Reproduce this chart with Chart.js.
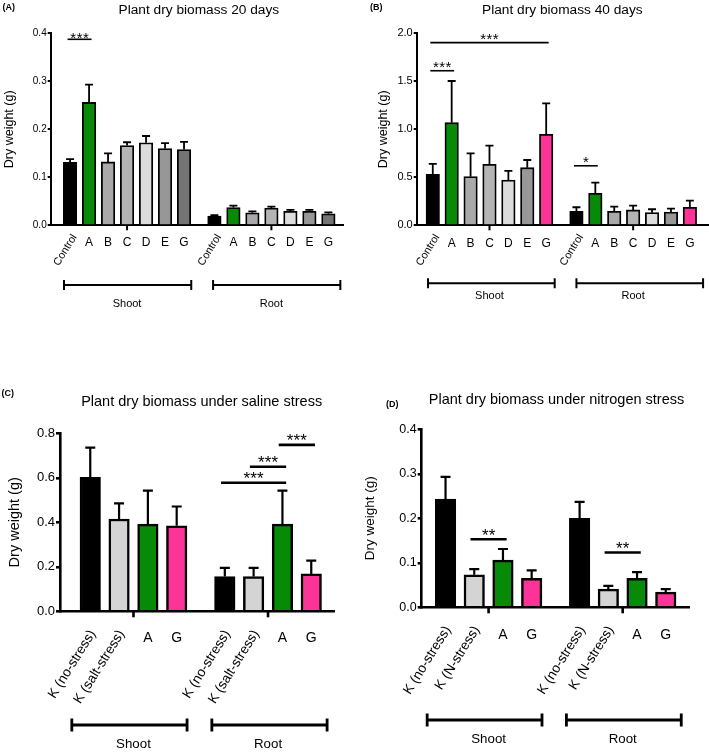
<!DOCTYPE html>
<html>
<head>
<meta charset="utf-8">
<title>Plant dry biomass</title>
<script src="https://cdn.jsdelivr.net/npm/chart.js@4.4.1/dist/chart.umd.min.js"></script>
<style>
  body { margin: 0; background: #fff; }
  #page { position: relative; width: 709px; height: 752px; overflow: hidden; background: #fff; }
  canvas { position: absolute; }
</style>
</head>
<body>
<div id="page">
  <canvas id="chartA" width="355" height="330" style="left:0;top:0"></canvas>
  <canvas id="chartB" width="354" height="330" style="left:355px;top:0"></canvas>
  <canvas id="chartC" width="355" height="382" style="left:0;top:370px"></canvas>
  <canvas id="chartD" width="354" height="382" style="left:355px;top:370px"></canvas>
</div>
<script>
const FONT = "'Liberation Sans', Arial, Helvetica, sans-serif";
const GREEN = '#078a07';
const PINK = '#fc3498';

// ================= DATA =================
const groups = ['Shoot', 'Root'];

// (A) 20 days
const labels20 = ['Control', 'A', 'B', 'C', 'D', 'E', 'G'];
const shoot20 = [0.131, 0.256, 0.132, 0.166, 0.172, 0.160, 0.158];
const shoot20Err = [0.007, 0.037, 0.018, 0.007, 0.014, 0.011, 0.016];
const root20 = [0.019, 0.037, 0.026, 0.036, 0.029, 0.029, 0.024];
const root20Err = [0.002, 0.004, 0.003, 0.003, 0.003, 0.003, 0.003];
const yTicks20 = [0, 0.1, 0.2, 0.3, 0.4];
// from / to = bar index over shoot then root
const sig20 = [{ from: 0, to: 1, y: 0.3875, text: '***' }];

// (B) 40 days
const labels40 = ['Control', 'A', 'B', 'C', 'D', 'E', 'G'];
const shoot40 = [0.531, 1.069, 0.507, 0.635, 0.472, 0.600, 0.948];
const shoot40Err = [0.108, 0.434, 0.243, 0.195, 0.094, 0.080, 0.323];
const root40 = [0.146, 0.333, 0.146, 0.160, 0.132, 0.139, 0.188];
const root40Err = [0.042, 0.111, 0.048, 0.045, 0.035, 0.035, 0.069];
const yTicks40 = [0, 0.5, 1.0, 1.5, 2.0];
const sig40 = [
  { from: 0, to: 6, y: 1.903, text: '***' },
  { from: 0, to: 1, y: 1.61, text: '***' },
  { from: 7, to: 8, y: 0.62, text: '*' }
];

// (C) saline stress
const labelsSalt = ['K (no-stress)', 'K (salt-stress)', 'A', 'G'];
const shootSalt = [0.602, 0.415, 0.392, 0.384];
const shootSaltErr = [0.134, 0.070, 0.150, 0.087];
const rootSalt = [0.156, 0.156, 0.392, 0.168];
const rootSaltErr = [0.039, 0.039, 0.150, 0.060];
const yTicksSalt = [0, 0.2, 0.4, 0.6, 0.8];
const sigSalt = [
  { from: 4, to: 6, y: 0.578, text: '***' },
  { from: 5, to: 6, y: 0.65, text: '***' },
  { from: 6, to: 7, y: 0.748, text: '***' }
];

// (D) nitrogen stress
const labelsN = ['K (no-stress)', 'K (N-stress)', 'A', 'G'];
const shootN = [0.243, 0.073, 0.106, 0.065];
const shootNErr = [0.050, 0.013, 0.025, 0.018];
const rootN = [0.200, 0.041, 0.065, 0.034];
const rootNErr = [0.037, 0.007, 0.014, 0.007];
const yTicksN = [0, 0.1, 0.2, 0.3, 0.4];
const sigN = [
  { from: 1, to: 2, y: 0.153, text: '**' },
  { from: 5, to: 6, y: 0.123, text: '**' }
];

const colors20 = ['#000000', GREEN, '#a9a9a9', '#b4b4b4', '#dcdcdc', '#979797', '#747474'];
const colors40 = ['#000000', GREEN, '#a9a9a9', '#b4b4b4', '#dcdcdc', '#979797', PINK];
const colorsStress = ['#000000', '#d4d4d4', GREEN, PINK];

// ================= DRAWING HELPERS =================
const LABEL_ANGLE = 58 * Math.PI / 180;

function decor(p) {
  const n = p.cats.length;
  const pos = k => (k < n ? k : p.rootStart + k - n);
  return {
    id: 'decor',
    afterDatasetsDraw(chart) {
      const { ctx, scales: { y } } = chart;
      const bars = chart.getDatasetMeta(0).data;
      ctx.save();
      ctx.strokeStyle = '#000';
      ctx.lineWidth = p.errW;
      bars.forEach((bar, i) => {
        const top = y.getPixelForValue(p.vals[i] + p.errs[i]);
        ctx.beginPath();
        ctx.moveTo(bar.x, bar.y);
        ctx.lineTo(bar.x, top);
        ctx.moveTo(bar.x - p.cap / 2, top);
        ctx.lineTo(bar.x + p.cap / 2, top);
        ctx.stroke();
      });
      ctx.restore();
    },
    afterDraw(chart) {
      const { ctx, chartArea: area, scales: { x, y } } = chart;
      const bars = chart.getDatasetMeta(0).data;
      ctx.save();
      ctx.fillStyle = '#000';
      ctx.strokeStyle = '#000';

      // panel tag and title
      ctx.textBaseline = 'middle';
      ctx.textAlign = 'left';
      ctx.font = `bold ${p.tagSize}px ${FONT}`;
      ctx.fillText(p.tag, p.tagX, p.tagY);
      ctx.textAlign = 'center';
      ctx.font = `${p.titleSize}px ${FONT}`;
      ctx.fillText(p.title, (area.left + area.right) / 2 + p.titleDx, p.titleY);

      // small tick under the middle of each group
      ctx.lineWidth = p.axisW;
      groups.forEach((g, gi) => {
        const mx = x.getPixelForValue(gi * p.rootStart + (n - 1) / 2);
        ctx.beginPath();
        ctx.moveTo(mx, area.bottom);
        ctx.lineTo(mx, area.bottom + p.midTick);
        ctx.stroke();
      });

      // category labels
      bars.forEach((bar, i) => {
        const name = p.cats[i % n];
        if (name.length > 1) {
          ctx.save();
          ctx.translate(bar.x + p.rotDx, area.bottom + p.rotDy);
          ctx.rotate(-LABEL_ANGLE);
          ctx.font = `${p.rotSize}px ${FONT}`;
          ctx.textAlign = 'right';
          ctx.textBaseline = 'middle';
          ctx.fillText(name, 0, 0);
          ctx.restore();
        } else {
          ctx.font = `${p.letterSize}px ${FONT}`;
          ctx.textAlign = 'center';
          ctx.textBaseline = 'middle';
          ctx.fillText(name, bar.x, area.bottom + p.letterDy);
        }
      });

      // Shoot / Root brackets
      ctx.lineWidth = p.bracketW;
      groups.forEach((g, gi) => {
        const c = gi * p.rootStart + (n - 1) / 2;
        const half = (n - 1) / 2 + p.bracketExtra;
        const x1 = x.getPixelForValue(c - half + p.bracketShift[gi]);
        const x2 = x.getPixelForValue(c + half + p.bracketShift[gi]);
        const by = p.bracketY;
        ctx.beginPath();
        ctx.moveTo(x1, by); ctx.lineTo(x2, by);
        ctx.moveTo(x1, by - p.bracketCap); ctx.lineTo(x1, by + p.bracketCap);
        ctx.moveTo(x2, by - p.bracketCap); ctx.lineTo(x2, by + p.bracketCap);
        ctx.stroke();
        ctx.font = `${p.groupSize}px ${FONT}`;
        ctx.textAlign = 'center';
        ctx.textBaseline = 'middle';
        ctx.fillText(g, x.getPixelForValue(c), p.groupY);
      });

      // significance lines
      ctx.lineWidth = p.sigW;
      ctx.font = `${p.starSize}px ${FONT}`;
      ctx.textAlign = 'center';
      ctx.textBaseline = 'alphabetic';
      p.sig.forEach(s => {
        const x1 = x.getPixelForValue(pos(s.from) - 0.13);
        const x2 = x.getPixelForValue(pos(s.to) + 0.13);
        const yy = y.getPixelForValue(s.y);
        ctx.beginPath();
        ctx.moveTo(x1, yy); ctx.lineTo(x2, yy);
        ctx.stroke();
        const k = s.text.length;
        for (let j = 0; j < k; j++) {
          const sx = (x1 + x2) / 2 + (j - (k - 1) / 2) * p.starStep;
          ctx.fillText('*', sx, yy - p.starGap + 0.58 * p.starSize);
        }
      });
      ctx.restore();
    }
  };
}

function makePanel(p) {
  const data = [];
  const colors = [];
  p.vals = [];
  p.errs = [];
  p.shoot.forEach((v, i) => { data.push({ x: i, y: v }); p.vals.push(v); p.errs.push(p.shootErr[i]); colors.push(p.colors[i]); });
  p.root.forEach((v, i) => { data.push({ x: p.rootStart + i, y: v }); p.vals.push(v); p.errs.push(p.rootErr[i]); colors.push(p.colors[i]); });

  return new Chart(document.getElementById(p.canvas), {
    type: 'bar',
    data: {
      datasets: [{
        data,
        backgroundColor: colors,
        borderColor: '#000',
        borderWidth: p.barBorder,
        borderSkipped: 'start',
        barThickness: p.barW
      }]
    },
    options: {
      responsive: false,
      animation: false,
      events: [],
      layout: { padding: { top: p.top, right: p.right, left: 0, bottom: 0 } },
      plugins: { legend: { display: false }, tooltip: { enabled: false }, title: { display: false } },
      scales: {
        x: {
          type: 'linear',
          min: p.xMin,
          max: p.xMax,
          offset: false,
          grid: { display: false },
          ticks: { display: false },
          border: { display: true, color: '#000', width: p.axisW },
          afterFit: s => { s.height = p.xH; }
        },
        y: {
          min: 0,
          max: p.yTicks[p.yTicks.length - 1],
          afterBuildTicks: s => { s.ticks = p.yTicks.map(v => ({ value: v })); },
          ticks: {
            color: '#000',
            padding: 1,
            font: { family: FONT, size: p.tickSize },
            callback: v => Number(v).toFixed(1)
          },
          grid: { drawOnChartArea: false, drawTicks: true, tickLength: p.tickLen, lineWidth: p.axisW, color: '#000' },
          border: { display: true, color: '#000', width: p.axisW },
          title: {
            display: true,
            text: 'Dry weight (g)',
            color: '#000',
            font: { family: FONT, size: p.yTitleSize },
            padding: { top: p.yTitlePad, bottom: 0 }
          },
          afterFit: s => { s.width = p.yW; }
        }
      }
    },
    plugins: [decor(p)]
  });
}

// ================= PANELS =================
const small = {
  tagSize: 9, titleSize: 13.7, tickSize: 10, tickLen: 3, yTitleSize: 12.5,
  barW: 13.5, barBorder: 1.8, errW: 1.8, cap: 8, axisW: 2, midTick: 5,
  rotSize: 10.8, letterSize: 12, rotDx: 4.5, rotDy: 10, letterDy: 17,
  bracketW: 2, bracketCap: 5, bracketExtra: 0.35, groupSize: 11,
  sigW: 1.6, starSize: 15, starStep: 6.3, starGap: 5.5
};
const large = {
  tagSize: 9, titleSize: 14.5, tickSize: 13, tickLen: 4, yTitleSize: 14,
  barW: 20.5, barBorder: 2.5, errW: 2.2, cap: 10, axisW: 2.6, midTick: 6,
  rotSize: 13.6, letterSize: 14, rotDx: 2.5, rotDy: 20, letterDy: 27,
  bracketW: 2.8, bracketCap: 6.5, bracketExtra: 0.5, groupSize: 13.3,
  sigW: 2.6, starSize: 17, starStep: 6.8, starGap: 8.5
};

makePanel(Object.assign({}, small, {
  canvas: 'chartA', tag: '(A)', title: 'Plant dry biomass 20 days',
  cats: labels20, shoot: shoot20, shootErr: shoot20Err, root: root20, rootErr: root20Err,
  yTicks: yTicks20, sig: sig20, colors: colors20,
  rootStart: 7.6, xMin: -1.02, xMax: 14.37,
  yW: 50.7, top: 33.3, right: 12, xH: 104.7,
  tagX: 2.5, tagY: 8, titleY: 10, titleDx: 2, yTitlePad: 2.5,
  bracketY: 285, groupY: 304, bracketShift: [0.03, 0.28], starGap: 5.5
}));

makePanel(Object.assign({}, small, {
  canvas: 'chartB', tag: '(B)', title: 'Plant dry biomass 40 days',
  cats: labels40, shoot: shoot40, shootErr: shoot40Err, root: root40, rootErr: root40Err,
  yTicks: yTicks40, sig: sig40, colors: colors40,
  rootStart: 7.6, xMin: -0.85, xMax: 14.56,
  yW: 61.7, top: 33.3, right: 1, xH: 104.7,
  tickSize: 11, tagX: 15, tagY: 8, titleY: 10, titleDx: 0, yTitlePad: 20.8,
  letterDy: 18, bracketY: 283.3, groupY: 296, bracketShift: [0.1, 0.35], starGap: 7.5
}));

makePanel(Object.assign({}, large, {
  canvas: 'chartC', tag: '(C)', title: 'Plant dry biomass under saline stress',
  cats: labelsSalt, shoot: shootSalt, shootErr: shootSaltErr, root: rootSalt, rootErr: rootSaltErr,
  yTicks: yTicksSalt, sig: sigSalt, colors: colorsStress,
  rootStart: 4.67, xMin: -1.05, xMax: 8.47,
  yW: 60, top: 63.3, right: 20.7, xH: 140.7,
  tagX: 1.5, tagY: 23.3, titleY: 32.3, titleDx: 4.5, yTitleSize: 14.5, yTitlePad: 6.3,
  bracketY: 355, groupY: 374, bracketShift: [-0.14, 0.05]
}));

makePanel(Object.assign({}, large, {
  canvas: 'chartD', tag: '(D)', title: 'Plant dry biomass under nitrogen stress',
  cats: labelsN, shoot: shootN, shootErr: shootNErr, root: rootN, rootErr: rootNErr,
  yTicks: yTicksN, sig: sigN, colors: colorsStress,
  rootStart: 4.67, xMin: -0.83, xMax: 8.49,
  yW: 66.7, top: 59.3, right: 19.7, xH: 144.7,
  tickSize: 12.5, tagX: 31, tagY: 34.3, titleY: 30, titleDx: 1, yTitleSize: 13.5, yTitlePad: 7.6,
  letterDy: 27.7, bracketY: 350, groupY: 369.3, bracketShift: [-0.14, 0.04]
}));
</script>
</body>
</html>
